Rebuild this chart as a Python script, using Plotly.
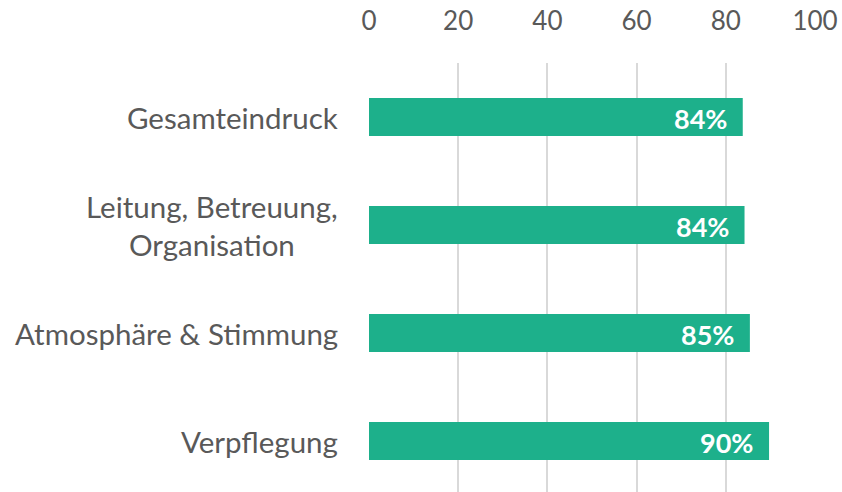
import plotly.graph_objects as go

categories = ["Gesamteindruck", "Leitung, Betreuung,<br>Organisation", "Atmosphäre & Stimmung", "Verpflegung"]
values = [83.8, 84.2, 85.4, 89.7]
value_labels = ["84%", "84%", "85%", "90%"]
x_ticks = [0, 20, 40, 60, 80, 100]

FONT = "Lato"
GRAY = "#595959"
idx = list(range(len(categories)))

fig = go.Figure()
fig.add_trace(go.Bar(
    y=idx, x=values, orientation="h",
    marker=dict(color="#1DB08B", line=dict(width=0)),
    width=0.352, hoverinfo="skip",
))

for i, c in zip(idx, categories):
    fig.add_annotation(x=0, xref="paper", y=i, yref="y", text=c, showarrow=False,
                       xanchor="right", xshift=-29, align="center",
                       font=dict(family=FONT, size=29.5, color=GRAY))

for i, v, t in zip(idx, values, value_labels):
    fig.add_annotation(x=v, xref="x", y=i, yref="y", text=t, showarrow=False,
                       xanchor="right", xshift=-14, yshift=-1,
                       font=dict(family=FONT, size=27, color="white", weight="bold"))

fig.update_layout(
    width=842, height=492,
    margin=dict(l=369, r=27, t=63, b=0),
    paper_bgcolor="white", plot_bgcolor="white",
    showlegend=False,
    font=dict(family=FONT, color=GRAY),
    xaxis=dict(side="top", range=[0, 100], tickvals=x_ticks, showgrid=True,
               gridcolor="#D9D9D9", gridwidth=1.5, zeroline=False, showline=False,
               tickfont=dict(family=FONT, size=26, color=GRAY), ticklabelstandoff=27),
    yaxis=dict(range=[3.472, -0.5], showticklabels=False, showgrid=False,
               zeroline=False, showline=False, tickvals=idx),
)

fig.write_html("out.html", config={"displayModeBar": False},
               post_script="document.body.style.margin='0';")
